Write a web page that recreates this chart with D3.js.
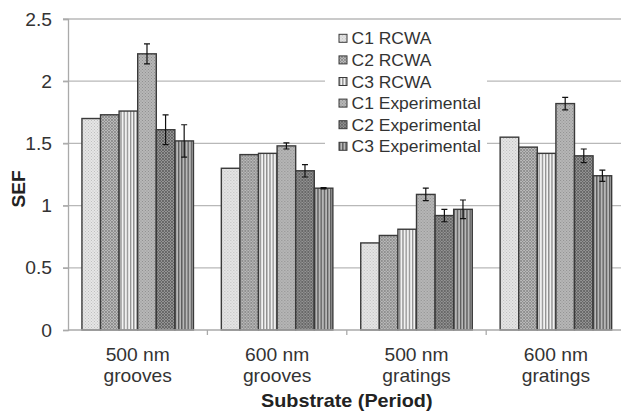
<!DOCTYPE html>
<html><head><meta charset="utf-8">
<script src="https://cdn.jsdelivr.net/npm/d3@7"></script>
<style>body{margin:0;background:#fff}svg{display:block;font-family:"Liberation Sans",Arial,sans-serif}</style>
</head><body><svg id="c" width="621" height="411"></svg>
<script>
const categories = [["500 nm","grooves"],["600 nm","grooves"],["500 nm","gratings"],["600 nm","gratings"]];
const seriesNames = ["C1 RCWA","C2 RCWA","C3 RCWA","C1 Experimental","C2 Experimental","C3 Experimental"];
const c1Rcwa = [1.70, 1.30, 0.70, 1.55];
const c2Rcwa = [1.73, 1.41, 0.76, 1.47];
const c3Rcwa = [1.76, 1.42, 0.81, 1.42];
const c1Exp = [2.22, 1.48, 1.09, 1.82];
const c2Exp = [1.61, 1.28, 0.92, 1.40];
const c3Exp = [1.52, 1.14, 0.97, 1.24];
const c1ExpErr = [0.08, 0.025, 0.05, 0.05];
const c2ExpErr = [0.12, 0.05, 0.05, 0.055];
const c3ExpErr = [0.13, 0.005, 0.075, 0.045];
const yTicks = [0, 0.5, 1, 1.5, 2, 2.5];

const values = [c1Rcwa, c2Rcwa, c3Rcwa, c1Exp, c2Exp, c3Exp];
const errors = [null, null, null, c1ExpErr, c2ExpErr, c3ExpErr];

const svg = d3.select("#c");
const defs = svg.append("defs");
function dots(id, bg, fg){
  const p = defs.append("pattern").attr("id",id).attr("width",3).attr("height",3).attr("patternUnits","userSpaceOnUse");
  p.append("rect").attr("width",3).attr("height",3).attr("fill",bg);
  p.append("rect").attr("x",0).attr("y",0).attr("width",1).attr("height",1).attr("fill",fg);
  p.append("rect").attr("x",1.5).attr("y",1.5).attr("width",1).attr("height",1).attr("fill",fg);
}
function hatch(id, bg, fg){
  const p = defs.append("pattern").attr("id",id).attr("width",3).attr("height",3).attr("patternUnits","userSpaceOnUse");
  p.append("rect").attr("width",3).attr("height",3).attr("fill",bg);
  p.append("path").attr("d","M0,0L3,3M3,0L0,3").attr("stroke",fg).attr("stroke-width",0.8);
}
function stripes(id, bg, fg){
  const p = defs.append("pattern").attr("id",id).attr("width",3.2).attr("height",4).attr("patternUnits","userSpaceOnUse");
  p.append("rect").attr("width",3.2).attr("height",4).attr("fill",bg);
  p.append("rect").attr("x",0).attr("width",1.3).attr("height",4).attr("fill",fg);
}
dots("p0","#e6e6e6","#bdbdbd");
hatch("p1","#bcbcbc","#858585");
stripes("p2","#f2f2f2","#8c8c8c");
dots("p3","#b8b8b8","#8e8e8e");
hatch("p4","#969696","#5c5c5c");
stripes("p5","#b8b8b8","#585858");

const mLeft = 68, mRight = 625.6, mTop = 19, mBottom = 330;
const x0 = d3.scaleBand().domain(d3.range(categories.length)).range([mLeft, mRight]).paddingInner(0.2).paddingOuter(0.1);
const x1 = d3.scaleBand().domain(d3.range(seriesNames.length)).range([0, x0.bandwidth()]);
const y = d3.scaleLinear().domain([0, 2.5]).range([mBottom, mTop]);

const SX = 1.1;
function stext(parent, x, yy, str, size, anchor, bold, sx){
  const g = parent.append("g").attr("transform",`translate(${x},${yy}) scale(${sx||SX},1)`);
  return g.append("text").attr("font-size",size).attr("text-anchor",anchor||"start")
    .attr("font-weight",bold?"bold":"normal").attr("fill",bold?"#222":"#333").text(str);
}

// gridlines
svg.append("g").selectAll("line").data(yTicks.filter(d=>d>0)).join("line")
  .attr("x1", mLeft-5).attr("x2", 621).attr("y1", d=>y(d)).attr("y2", d=>y(d))
  .attr("stroke","#b8b8b8").attr("stroke-width",1.3);
// y axis
const ya = svg.append("g").attr("transform",`translate(${mLeft},0)`).call(d3.axisLeft(y).tickValues(yTicks).tickSize(5).tickFormat(""));
ya.select(".domain").attr("stroke","#aaa").attr("stroke-width",1.3);
ya.selectAll(".tick line").attr("stroke","#aaa").attr("stroke-width",1.3);
const yl = svg.append("g");
yTicks.forEach(t=> stext(yl, 52, y(t)+6.5, d3.format("")(t), 17.5, "end"));

// bars
const groups = svg.append("g").selectAll("g").data(categories).join("g").attr("transform",(d,i)=>`translate(${x0(i)},0)`);
groups.each(function(cat, ci){
  const g = d3.select(this);
  seriesNames.forEach((s, si)=>{
    const v = values[si][ci];
    g.append("rect").attr("x", x1(si)).attr("width", x1.bandwidth()).attr("y", y(v)).attr("height", y(0)-y(v))
      .attr("fill",`url(#p${si})`).attr("stroke","#3a3a3a").attr("stroke-width",1.4);
  });
  seriesNames.forEach((s, si)=>{
    if(!errors[si]) return;
    const v = values[si][ci], e = errors[si][ci];
    const cx = x1(si) + x1.bandwidth()/2;
    g.append("path").attr("d",`M${cx},${y(v+e)}V${y(v-e)}M${cx-3},${y(v+e)}H${cx+3}M${cx-3},${y(v-e)}H${cx+3}`)
      .attr("stroke","#111").attr("stroke-width",1.2).attr("fill","none");
  });
});

// x axis
svg.append("line").attr("x1",mLeft).attr("x2",621).attr("y1",mBottom).attr("y2",mBottom).attr("stroke","#aaa").attr("stroke-width",1.3);
svg.append("g").selectAll("line").data(d3.range(1,categories.length)).join("line")
  .attr("x1",d=>x0(d)-x0.step()*x0.paddingInner()/2).attr("x2",d=>x0(d)-x0.step()*x0.paddingInner()/2)
  .attr("y1",mBottom).attr("y2",mBottom+5).attr("stroke","#aaa").attr("stroke-width",1.3);
const xlg = svg.append("g");
categories.forEach((c,i)=>{
  const cx = x0(i)+x0.bandwidth()/2;
  stext(xlg, cx, 360.5, c[0], 17.5, "middle");
  stext(xlg, cx, 381.5, c[1], 17.5, "middle");
});

stext(svg, (mLeft+mRight)/2, 407, "Substrate (Period)", 18, "middle", true, 1.1);
svg.append("text").attr("transform","translate(25,189) rotate(-90)").attr("text-anchor","middle")
  .attr("font-size",19).attr("font-weight","bold").attr("fill","#222").text("SEF");

// legend
const lg = svg.append("g").attr("transform","translate(325,30)");
lg.append("rect").attr("width",162).attr("height",127).attr("fill","#fff");
seriesNames.forEach((s,i)=>{
  const row = lg.append("g").attr("transform",`translate(14,${8.3+i*21.6})`);
  row.append("rect").attr("x",0).attr("y",-4).attr("width",8).attr("height",8).attr("fill",`url(#p${i})`).attr("stroke","#3a3a3a").attr("stroke-width",1);
  stext(row, 12.5, 6, s, 16.5, "start", false, 1.06);
});
</script></body></html>
